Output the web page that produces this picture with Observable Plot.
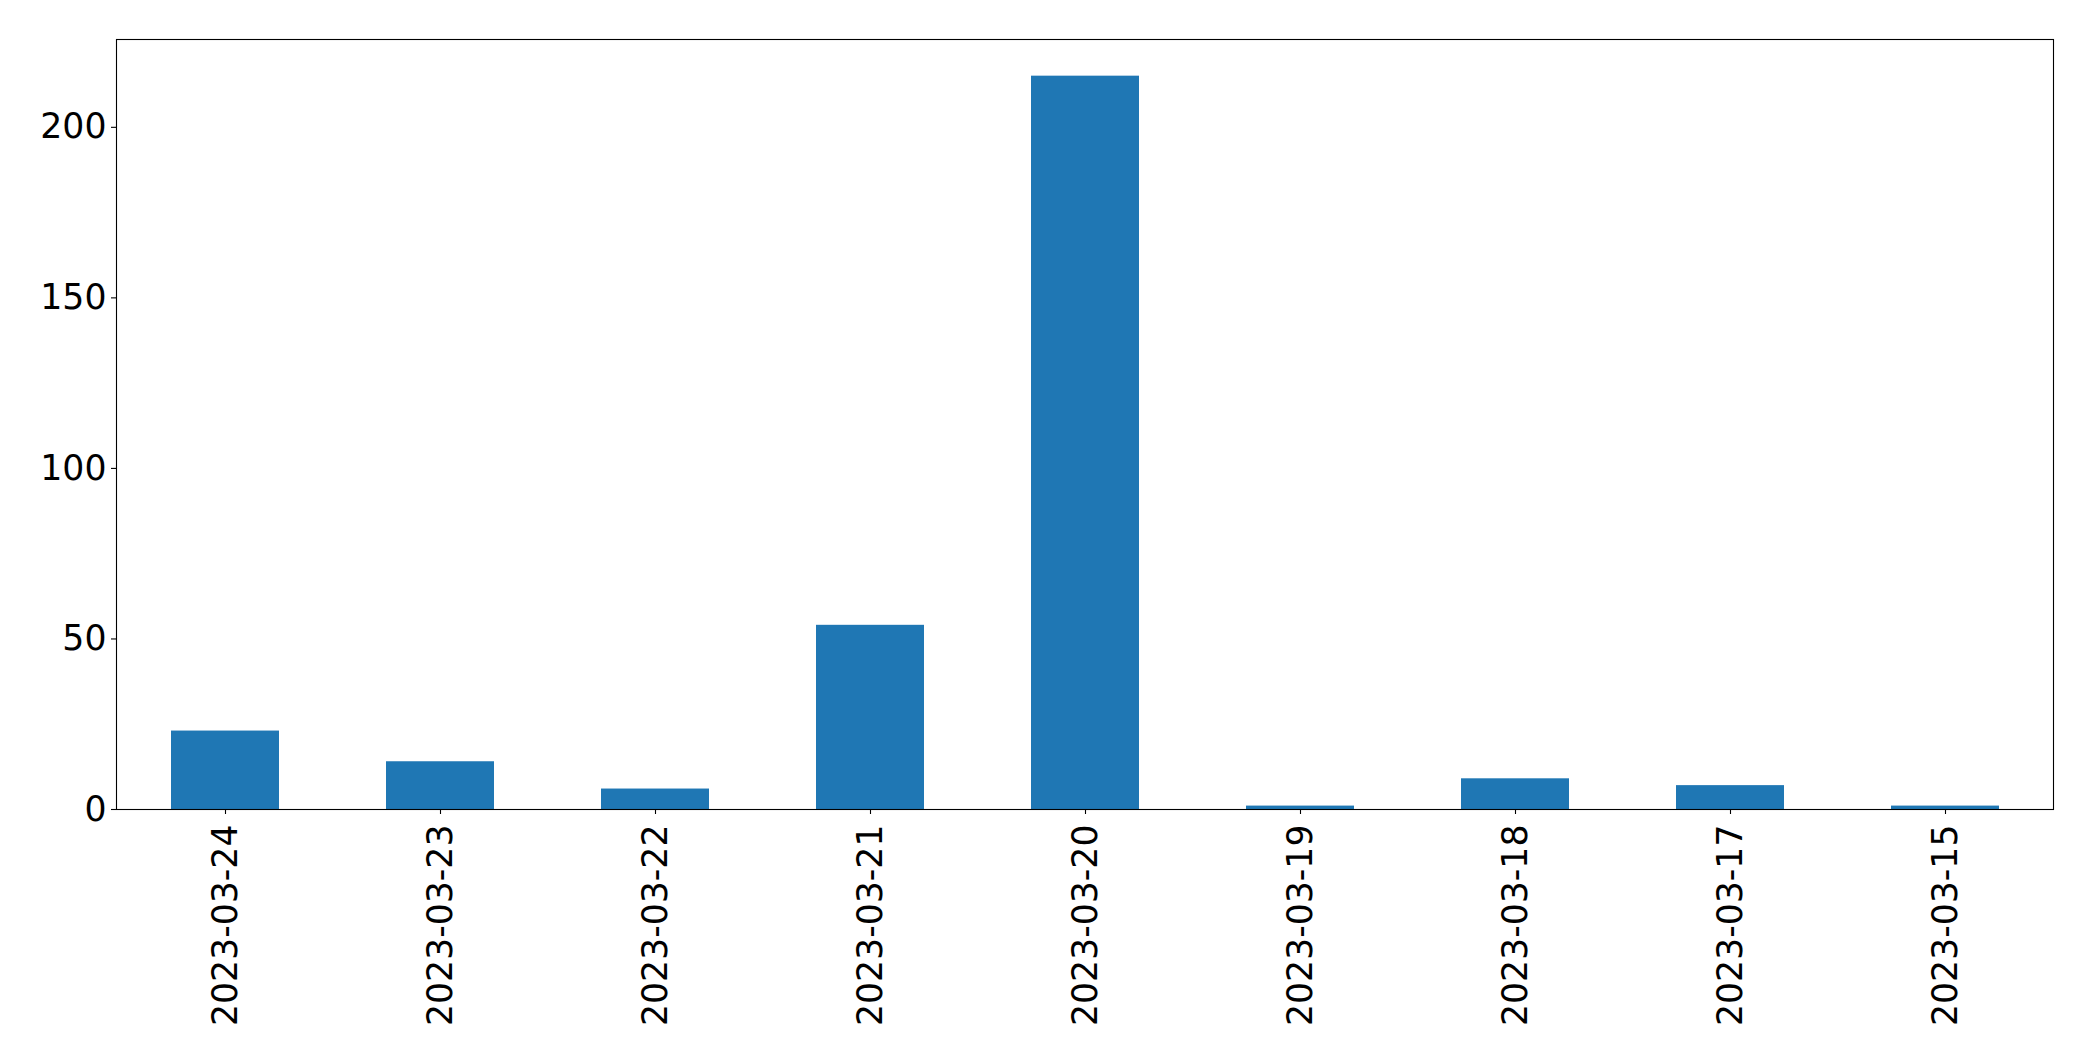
<!DOCTYPE html>
<html>
<head>
<meta charset="utf-8">
<script src="https://cdn.jsdelivr.net/npm/d3@7"></script>
<script src="https://cdn.jsdelivr.net/npm/@observablehq/plot@0.6"></script>
<style>
  html, body { margin: 0; padding: 0; background: #fff; }
  #chart svg { display: block; }
</style>
</head>
<body>
<div id="chart"></div>
<script>
const dates = ["2023-03-24","2023-03-23","2023-03-22","2023-03-21","2023-03-20","2023-03-19","2023-03-18","2023-03-17","2023-03-15"];
const counts = [23, 14, 6, 54, 215, 1, 9, 7, 1];
const yTicks = [0, 50, 100, 150, 200];

const data = dates.map((d, i) => ({date: d, count: counts[i]}));
const yMax = d3.max(counts) * 1.05;

const chart = Plot.plot({
  width: 2093,
  height: 1061,
  marginLeft: 116,
  marginRight: 40,
  marginTop: 39,
  marginBottom: 252,
  style: {fontFamily: "DejaVu Sans", background: "#fff", color: "#000"},
  x: {domain: dates, paddingInner: 0.5, paddingOuter: 0.25, label: null},
  y: {domain: [0, yMax], label: null},
  marks: [
    Plot.barY(data, {x: "date", y: "count", fill: "#1f77b4"}),
    Plot.axisY({ticks: yTicks, tickSize: 5, tickPadding: 5, fontSize: 34.7, strokeWidth: 1.1, label: null}),
    Plot.axisX({tickSize: 5, tickPadding: 10, tickRotate: -90, fontSize: 34.7, strokeWidth: 1.1, label: null}),
    Plot.frame({stroke: "#000", strokeWidth: 1.1})
  ]
});
document.getElementById("chart").appendChild(chart);
</script>
</body>
</html>
